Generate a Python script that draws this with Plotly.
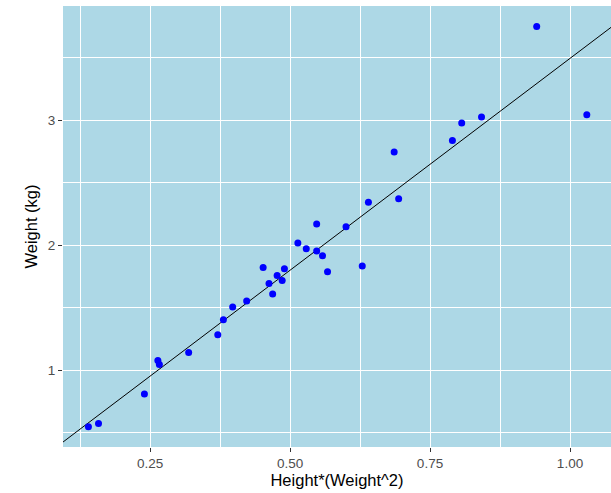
import plotly.graph_objects as go
import numpy as np

# Data
x_vals = [0.140, 0.158, 0.240, 0.264, 0.2667, 0.319, 0.371, 0.381, 0.3976, 0.4226,
          0.452, 0.4625, 0.469, 0.477, 0.486, 0.490, 0.514, 0.529, 0.5476, 0.5476,
          0.558, 0.567, 0.600, 0.629, 0.640, 0.686, 0.694, 0.790, 0.8066, 0.842,
          0.9405, 1.030]
y_vals = [0.547, 0.573, 0.808, 1.077, 1.045, 1.141, 1.283, 1.403, 1.504, 1.552,
          1.821, 1.693, 1.608, 1.757, 1.717, 1.811, 2.016, 1.971, 1.952, 2.168,
          1.915, 1.787, 2.147, 1.832, 2.342, 2.744, 2.370, 2.837, 2.976, 3.024,
          3.749, 3.043]

# Fitted line (intercept, slope)
fit_intercept = 0.103
fit_slope = 3.39

x_range = [0.0946, 1.0732]
y_range = [0.384, 3.912]

x_tickvals = [0.25, 0.50, 0.75, 1.00]
x_ticktext = ["0.25", "0.50", "0.75", "1.00"]
y_tickvals = [1, 2, 3]
y_ticktext = ["1", "2", "3"]

line_x = np.array(x_range)
line_y = fit_intercept + fit_slope * line_x

fig = go.Figure()
fig.add_trace(go.Scatter(x=line_x, y=line_y, mode="lines",
                         line=dict(color="black", width=1), showlegend=False,
                         hoverinfo="skip"))
fig.add_trace(go.Scatter(x=x_vals, y=y_vals, mode="markers",
                         marker=dict(color="#0000FF", size=7, line=dict(width=0)),
                         showlegend=False))

font_family = "Liberation Sans, Arial, sans-serif"

fig.update_layout(
    width=611, height=493,
    margin=dict(l=63, r=0, t=6, b=46),
    paper_bgcolor="white",
    plot_bgcolor="#ADD8E6",
    font=dict(family=font_family),
    xaxis=dict(
        range=x_range, tickvals=x_tickvals, ticktext=x_ticktext,
        showgrid=True, gridcolor="white", gridwidth=1.2,
        minor=dict(tickvals=[0.125, 0.375, 0.625, 0.875], showgrid=True,
                   gridcolor="white", gridwidth=0.6, ticks=""),
        ticks="outside", ticklen=4, tickcolor="#333333", tickwidth=1,
        tickfont=dict(size=13.5, color="#4D4D4D"),
        title=dict(text="Height*(Weight^2)", font=dict(size=16.5, color="black"), standoff=2),
        zeroline=False, showline=False,
    ),
    yaxis=dict(
        range=y_range, tickvals=y_tickvals, ticktext=y_ticktext,
        showgrid=True, gridcolor="white", gridwidth=1.2,
        minor=dict(tickvals=[0.5, 1.5, 2.5, 3.5], showgrid=True,
                   gridcolor="white", gridwidth=0.6, ticks=""),
        ticks="outside", ticklen=4, tickcolor="#333333", tickwidth=1,
        tickfont=dict(size=13.5, color="#4D4D4D"),
        title=dict(text="Weight (kg)", font=dict(size=16.5, color="black"), standoff=6),
        zeroline=False, showline=False,
    ),
)

fig.write_html("out.html")
